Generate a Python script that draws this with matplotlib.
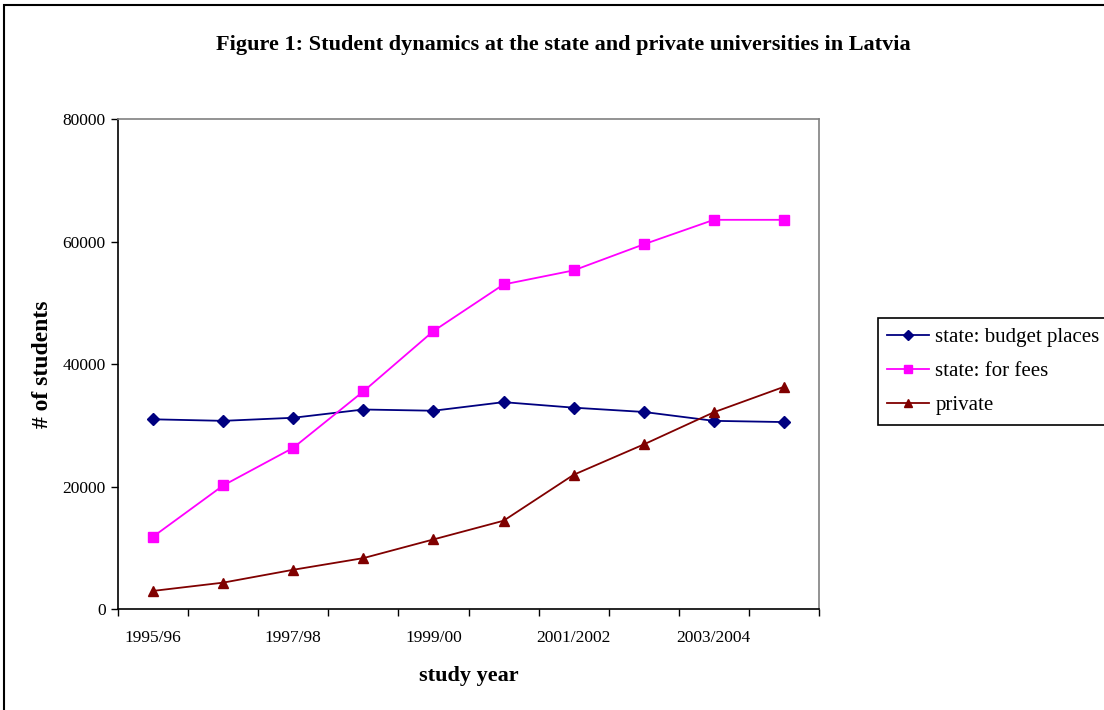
import matplotlib.pyplot as plt
from matplotlib.patches import Rectangle
import numpy as np

plt.rcParams['font.family'] = ['Liberation Serif', 'DejaVu Serif']

# data
years = ['1995/96', '1996/97', '1997/98', '1998/99', '1999/00',
         '2000/01', '2001/2002', '2002/2003', '2003/2004', '2004/2005']
budget = [31000, 30750, 31250, 32600, 32400, 33800, 32900, 32200, 30750, 30550]
fees = [11850, 20200, 26350, 35550, 45400, 53000, 55300, 59550, 63550, 63550]
private = [3000, 4350, 6450, 8350, 11400, 14450, 21950, 26900, 32150, 36300]
names = ['state: budget places', 'state: for fees', 'private']

fig = plt.figure(figsize=(11.04, 7.10), dpi=100)
ax = fig.add_axes([118/1104, 1 - 609.3/710, (819-118)/1104, (609.3-119)/710])

x = np.arange(len(years))
ax.plot(x, budget, color='#000080', marker='D', markersize=6, lw=1.3, label=names[0])
ax.plot(x, fees, color='#FF00FF', marker='s', markersize=6.5, lw=1.3, label=names[1])
ax.plot(x, private, color='#800000', marker='^', markersize=7, lw=1.3, label=names[2])

ax.set_xlim(-0.5, len(years) - 0.5)
ax.set_ylim(0, 80000)
ax.set_yticks([0, 20000, 40000, 60000, 80000])
ax.set_yticklabels(['0', '20000', '40000', '60000', '80000'])
ax.set_xticks(x[::2])
ax.set_xticklabels(years[::2])
ax.set_xticks(np.arange(-0.5, len(years)), minor=True)
ax.tick_params(axis='x', which='major', length=0, pad=15, labelsize=12.5)
ax.tick_params(axis='x', which='minor', length=5, direction='out', width=1)
ax.tick_params(axis='y', length=5, direction='out', width=1, labelsize=12.5, pad=4)

for s in ['left', 'bottom']:
    ax.spines[s].set_color('black')
    ax.spines[s].set_linewidth(1.2)
for s in ['top', 'right']:
    ax.spines[s].set_color('#808080')
    ax.spines[s].set_linewidth(1.2)

ax.set_xlabel('study year', fontsize=16, fontweight='bold', labelpad=14)
ax.set_ylabel('# of students', fontsize=17, fontweight='bold', labelpad=7)

fig.text(563/1104, 1 - 45/710, 'Figure 1: Student dynamics at the state and private universities in Latvia',
         fontsize=16, fontweight='bold', ha='center', va='center')

leg = ax.legend(loc='upper left', bbox_to_anchor=(878/1104, 1 - 318/710),
                bbox_transform=fig.transFigure, fancybox=False, framealpha=1,
                edgecolor='black', fontsize=15, handlelength=2.0, borderaxespad=0,
                borderpad=0.45, labelspacing=0.7, handletextpad=0.3, markerscale=0.8)
leg.get_frame().set_linewidth(1.2)

# outer frame of the figure
fig.patches.append(Rectangle((4/1104, -0.1), 1.2, (710-5)/710 + 0.1, transform=fig.transFigure,
                             fill=False, edgecolor='black', lw=1.5))

fig.savefig('out.png', dpi=100)
